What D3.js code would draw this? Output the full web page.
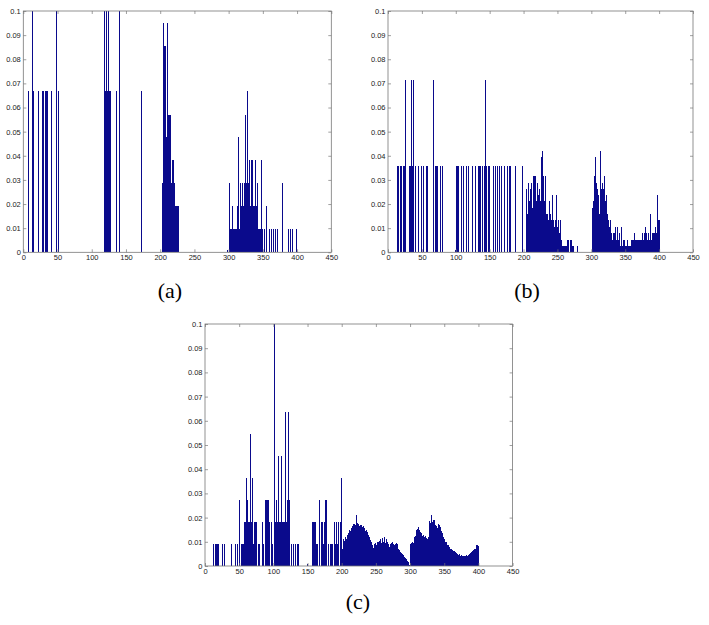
<!DOCTYPE html>
<html><head><meta charset="utf-8">
<script src="https://cdn.jsdelivr.net/npm/d3@7"></script>
<style>body{margin:0;background:#fff}</style>
</head><body>
<svg id="chart" width="709" height="625"></svg>
<script>
// ---------- tick labels ----------
const xTicks = [0, 50, 100, 150, 200, 250, 300, 350, 400, 450];
const yTicks = [0, 0.01, 0.02, 0.03, 0.04, 0.05, 0.06, 0.07, 0.08, 0.09, 0.1];
const panelNames = ["(a)", "(b)", "(c)"];

// ---------- panel (a): [bin, value] ----------
const aLeft = [[7,0.0667],[13,0.1],[14,0.0667],[15,0.0667],[22,0.0667],[28,0.0667],[29,0.0667],
  [32,0.0667],[33,0.0667],[34,0.0667],[35,0.0667],[36,0.0667],[41,0.0667],[48,0.1],[49,0.1],[52,0.0667],
  [119,0.1],[120,0.0667],[121,0.0667],[122,0.1],[123,0.0667],[124,0.1],[126,0.0667],[128,0.0667],
  [136,0.0667],[141,0.1],[172,0.0667]];
const aMid = [[203,0.0286],[204,0.0286],[205,0.0952],[206,0.0476],[207,0.0857],[208,0.0857],[209,0.0476],
  [210,0.0952],[211,0.0857],[212,0.0571],[213,0.0571],[214,0.0286],[215,0.0571],[216,0.0286],[217,0.0286],
  [218,0.0381],[219,0.0286],[220,0.0381],[221,0.0286],[222,0.0095],[223,0.0190],[224,0.0190],[225,0.0095],
  [226,0.0190],[227,0.0190]];
const aRight = [[299,0.001],[301,0.0286],[302,0.0095],[303,0.0095],[304,0.0095],[305,0.0190],[306,0.0095],
  [307,0.0095],[309,0.0095],[310,0.0095],[311,0.0095],[312,0.0095],[313,0.0190],[314,0.0095],[315,0.0476],
  [316,0.0095],[317,0.0190],[318,0.0286],[319,0.0190],[320,0.0286],[321,0.0190],[322,0.0190],[323,0.0286],
  [324,0.0571],[325,0.0190],[326,0.0286],[327,0.0667],[328,0.0190],[329,0.0286],[330,0.0190],[331,0.0381],
  [332,0.0190],[333,0.0381],[334,0.0286],[335,0.0381],[336,0.0190],[337,0.0190],[338,0.0190],[339,0.0381],
  [340,0.0095],[341,0.0190],[342,0.0286],[343,0.0095],[344,0.0095],[345,0.0095],[346,0.0095],[348,0.0381],
  [350,0.0095],[353,0.0095],[356,0.0190],[359,0.0095],[363,0.0095],[366,0.0095],[368,0.0095],[369,0.0095],
  [371,0.0095],[378,0.0286],[387,0.0095],[388,0.0095],[390,0.0095],[394,0.0095],[399,0.0095]];

// ---------- panel (b) ----------
const bLeft = [[14,0.0357],[16,0.0357],[18,0.0357],[20,0.0357],[23,0.0357],[24,0.0357],[26,0.0714],
  [31,0.0357],[33,0.0357],[34,0.0714],[36,0.0357],[38,0.0714],[40,0.0357],[45,0.0357],[49,0.0357],
  [52,0.0357],[57,0.0357],[59,0.0357],[67,0.0714],[70,0.0357],[72,0.0357],[73,0.0357],[77,0.0357],
  [80,0.0357],[99,0.0010],[101,0.0357],[103,0.0357],[104,0.0357],[108,0.0357],[112,0.0357],[116,0.0357],
  [119,0.0357],[125,0.0357],[129,0.0357],[134,0.0357],[135,0.0357],[137,0.0357],[140,0.0357],[142,0.0357],
  [144,0.0714],[146,0.0357],[148,0.0357],[150,0.0357],[155,0.0357],[158,0.0357],[161,0.0357],[165,0.0357],
  [168,0.0357],[172,0.0357],[176,0.0357],[180,0.0357],[188,0.0357],[198,0.0357]];
const bMidStart = 201; // bins 201..280
const bMid = [
  0, 0, 0, 0.0105, 0.0263, 0.0158, 0.0289, 0.0184, 0.0211, 0.0263,
  0.0211, 0.0289, 0.0184, 0.0316, 0.0211, 0.0316, 0.0263, 0.0316, 0.0211, 0.0289,
  0.0211, 0.0237, 0.0211, 0.0263, 0.0211, 0.0395, 0.0211, 0.0421, 0.0237, 0.0316,
  0.0211, 0.0316, 0.0184, 0.0158, 0.0105, 0.0158, 0.0132, 0.0158, 0.0211, 0.0158,
  0.0132, 0.0237, 0.0105, 0.0132, 0.0105, 0.0079, 0.0132, 0.0237, 0.0105, 0.0105,
  0.0132, 0.0132, 0.0079, 0.0132, 0.0079, 0.0053, 0.0026, 0.0026, 0.0026, 0.0026,
  0, 0.0026, 0.0026, 0.0026, 0.0053, 0.0053, 0.0026, 0, 0.0026, 0.0053,
  0.0053, 0.0026, 0.0026, 0.0026, 0, 0, 0, 0, 0, 0.0026];
const bRightStart = 301; // bins 301..400
const bRight = [
  0.0184, 0.0184, 0.0211, 0.0263, 0.0316, 0.0395, 0.0263, 0.0289, 0.0263, 0.0237,
  0.0184, 0.0158, 0.0184, 0.0421, 0.0263, 0.0289, 0.0211, 0.0263, 0.0316, 0.0211,
  0.0211, 0.0158, 0.0237, 0.0158, 0.0132, 0.0132, 0.0105, 0.0132, 0.0079, 0.0079,
  0.0053, 0.0079, 0.0053, 0.0079, 0.0105, 0.0105, 0.0053, 0.0105, 0.0079, 0.0053,
  0.0053, 0.0079, 0.0026, 0.0053, 0.0105, 0.0026, 0.0053, 0.0026, 0.0053, 0.0026,
  0.0026, 0.0026, 0.0026, 0.0053, 0.0026, 0.0026, 0.0026, 0.0026, 0.0053, 0.0053,
  0.0053, 0.0053, 0.0079, 0.0053, 0.0053, 0.0026, 0.0053, 0.0053, 0.0053, 0.0053,
  0.0053, 0.0026, 0.0053, 0.0053, 0.0053, 0.0079, 0.0053, 0.0053, 0.0079, 0.0105,
  0.0053, 0.0079, 0.0053, 0.0079, 0.0053, 0.0053, 0.0079, 0.0158, 0.0053, 0.0079,
  0.0079, 0.0053, 0.0079, 0.0105, 0.0053, 0.0079, 0.0237, 0.0105, 0.0132, 0.0132];

// ---------- panel (c) ----------
const cLeft = [[13,0.0091],[15,0.0091],[17,0.0091],[19,0.0091],[20,0.0091],[26,0.0091],[29,0.0091],
  [39,0.0091],[45,0.0091],[47,0.0091],[50,0.0091],[51,0.0273],[53,0.0091],[55,0.0091],[56,0.0091],
  [57,0.0091],[58,0.0182],[59,0.0182],[60,0.0182],[61,0.0364],[62,0.0273],[63,0.0182],[64,0.0091],
  [65,0.0182],[66,0.0182],[67,0.0545],[68,0.0182],[69,0.0364],[70,0.0182],[71,0.0091],[72,0.0182],
  [73,0.0091],[74,0.0182],[75,0.0091],[76,0.0182],[78,0.0091],[80,0.0091],[84,0.0182],[86,0.0091],
  [88,0.0273],[89,0.0182],[90,0.0273],[91,0.0182],[92,0.0273],[93,0.0273],[94,0.0182],[95,0.0091],
  [97,0.0182],[99,0.0091],[101,0.1],[102,0.0273],[103,0.0182],[104,0.0273],[105,0.0273],[106,0.0182],
  [107,0.0091],[108,0.0455],[109,0.0182],[110,0.0091],[111,0.0182],[112,0.0455],[113,0.0182],[114,0.0091],
  [115,0.0182],[116,0.0182],[117,0.0091],[118,0.0636],[119,0.0182],[120,0.0273],[121,0.0182],[122,0.0636],
  [123,0.0273],[124,0.0182],[126,0.0091],[129,0.0091],[132,0.0091],[135,0.0091],[137,0.0091],[150,0.0009],
  [158,0.0182],[159,0.0091],[160,0.0182],[162,0.0182],[163,0.0091],[165,0.0091],[167,0.0273],[168,0.0091],
  [170,0.0182],[172,0.0182],[173,0.0091],[175,0.0182],[177,0.0273],[178,0.0091],[180,0.0091],[183,0.0091],
  [185,0.0091],[187,0.0091],[189,0.0182],[191,0.0091],[192,0.0182],[194,0.0091],[196,0.0182],[198,0.0182],
  [199,0.0273],[200,0.0364]];
const cRightStart = 201; // bins 201..400
const cRight = [
  0.0070, 0.0091, 0.0110, 0.0105, 0.0115, 0.0120, 0.0112, 0.0128, 0.0125, 0.0135,
  0.0140, 0.0150, 0.0145, 0.0158, 0.0155, 0.0165, 0.0172, 0.0168, 0.0175, 0.0170,
  0.0185, 0.0210, 0.0178, 0.0170, 0.0175, 0.0165, 0.0168, 0.0160, 0.0170, 0.0162,
  0.0158, 0.0165, 0.0155, 0.0150, 0.0145, 0.0148, 0.0140, 0.0132, 0.0128, 0.0120,
  0.0115, 0.0108, 0.0100, 0.0095, 0.0085, 0.0075, 0.0068, 0.0090, 0.0078, 0.0095,
  0.0088, 0.0100, 0.0085, 0.0098, 0.0105, 0.0090, 0.0112, 0.0095, 0.0108, 0.0115,
  0.0100, 0.0118, 0.0110, 0.0095, 0.0112, 0.0105, 0.0098, 0.0090, 0.0085, 0.0080,
  0.0092, 0.0088, 0.0095, 0.0082, 0.0098, 0.0090, 0.0085, 0.0092, 0.0088, 0.0094,
  0.0080, 0.0090, 0.0072, 0.0065, 0.0060, 0.0058, 0.0052, 0.0048, 0.0050, 0.0045,
  0.0040, 0.0038, 0.0035, 0.0030, 0.0028, 0.0022, 0.0018, 0.0012, 0.0006, 0.0088,
  0.0092, 0.0095, 0.0090, 0.0098, 0.0094, 0.0105, 0.0118, 0.0125, 0.0140, 0.0148,
  0.0152, 0.0160, 0.0155, 0.0148, 0.0140, 0.0135, 0.0130, 0.0125, 0.0128, 0.0122,
  0.0120, 0.0118, 0.0122, 0.0115, 0.0112, 0.0110, 0.0120, 0.0160, 0.0185, 0.0178,
  0.0212, 0.0195, 0.0180, 0.0175, 0.0190, 0.0185, 0.0170, 0.0165, 0.0150, 0.0158,
  0.0165, 0.0172, 0.0168, 0.0160, 0.0150, 0.0145, 0.0135, 0.0125, 0.0118, 0.0112,
  0.0105, 0.0100, 0.0098, 0.0092, 0.0088, 0.0085, 0.0080, 0.0078, 0.0072, 0.0068,
  0.0070, 0.0065, 0.0062, 0.0060, 0.0063, 0.0058, 0.0055, 0.0052, 0.0050, 0.0048,
  0.0045, 0.0048, 0.0044, 0.0042, 0.0045, 0.0040, 0.0043, 0.0040, 0.0042, 0.0038,
  0.0042, 0.0040, 0.0045, 0.0042, 0.0046, 0.0044, 0.0050, 0.0048, 0.0055, 0.0058,
  0.0062, 0.0060, 0.0068, 0.0065, 0.0072, 0.0070, 0.0085, 0.0078, 0.0088, 0.0082];

// ---------- build ----------
const fromRun = (start, vals) => vals.map((v, i) => [start + i, v]);
const series = [
  aLeft.concat(aMid, aRight),
  bLeft.concat(fromRun(bMidStart, bMid), fromRun(bRightStart, bRight)),
  cLeft.concat(fromRun(cRightStart, cRight))
];
const boxes = [
  {l: 23.3, r: 331.3, t: 11, b: 252.3, lx: 170, ly: 298},
  {l: 388, r: 693, t: 11, b: 252.3, lx: 527, ly: 298},
  {l: 205, r: 512.6, t: 324, b: 566, lx: 358, ly: 609}
];

const svg = d3.select("#chart");
const barColor = "#0a0a8c", axisColor = "#777", textColor = "#222";
const fmt = d3.format(".2~f");

series.forEach((data, k) => {
  const bx = boxes[k];
  const x = d3.scaleLinear().domain([0, 450]).range([bx.l, bx.r]);
  const y = d3.scaleLinear().domain([0, 0.1]).range([bx.b, bx.t]);
  const g = svg.append("g");
  const w = (x(1) - x(0)) * 1.5;

  g.append("g").attr("shape-rendering", "crispEdges")
    .selectAll("rect").data(data.filter(d => d[1] > 0)).join("rect")
    .attr("x", d => x(d[0]) - w / 2)
    .attr("width", w)
    .attr("y", d => y(Math.min(d[1], 0.1)))
    .attr("height", d => y(0) - y(Math.min(d[1], 0.1)))
    .attr("fill", barColor);

  const style = sel => {
    sel.select(".domain").remove();
    sel.selectAll(".tick line").attr("stroke", axisColor).attr("stroke-width", 0.7);
    sel.selectAll(".tick text").attr("fill", textColor)
      .style("font-family", "'Liberation Sans', Arial, sans-serif").style("font-size", "7.5px");
  };
  g.append("g").attr("transform", `translate(0,${bx.b})`)
    .call(d3.axisBottom(x).tickValues(xTicks).tickSizeInner(-3).tickSizeOuter(0).tickPadding(2.5)).call(style);
  g.append("g").attr("transform", `translate(0,${bx.t})`)
    .call(d3.axisTop(x).tickValues(xTicks).tickSizeInner(-3).tickSizeOuter(0).tickFormat("")).call(style);
  g.append("g").attr("transform", `translate(${bx.l},0)`)
    .call(d3.axisLeft(y).tickValues(yTicks).tickSizeInner(-3).tickSizeOuter(0).tickPadding(2.5).tickFormat(fmt)).call(style);
  g.append("g").attr("transform", `translate(${bx.r},0)`)
    .call(d3.axisRight(y).tickValues(yTicks).tickSizeInner(-3).tickSizeOuter(0).tickFormat("")).call(style);

  g.append("rect").attr("x", bx.l).attr("y", bx.t).attr("width", bx.r - bx.l).attr("height", bx.b - bx.t)
    .attr("fill", "none").attr("stroke", axisColor).attr("stroke-width", 0.8);

  svg.append("text").attr("x", bx.lx).attr("y", bx.ly).attr("text-anchor", "middle")
    .style("font-family", "'Liberation Serif', 'Times New Roman', serif").style("font-size", "22px")
    .attr("fill", "#000").text(panelNames[k]);
});
</script>
</body></html>
